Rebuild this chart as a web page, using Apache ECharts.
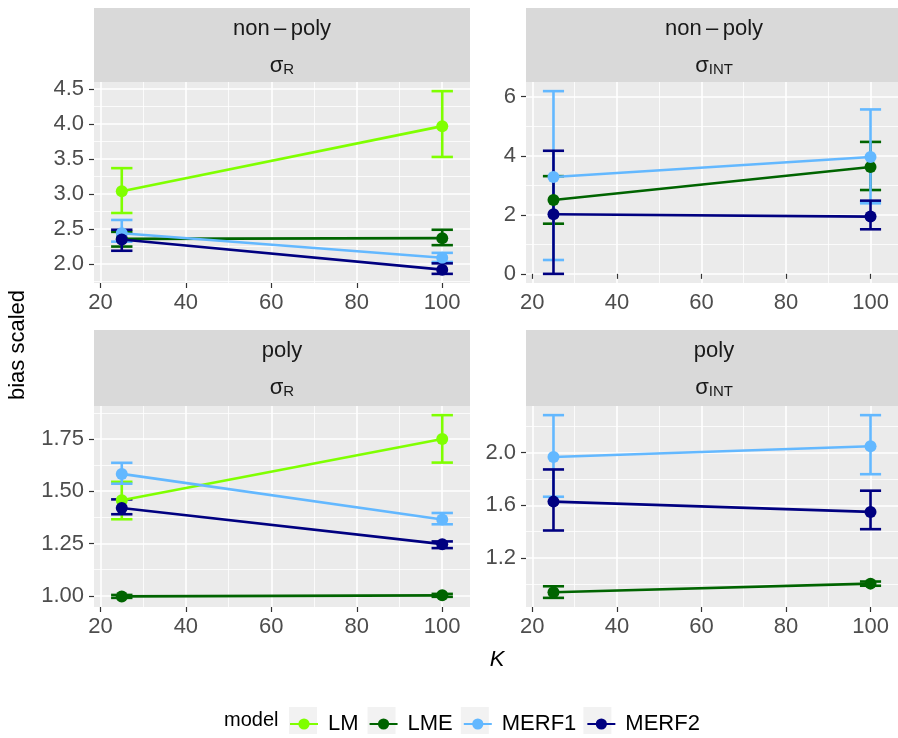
<!DOCTYPE html>
<html>
<head>
<meta charset="utf-8">
<script src="https://cdn.jsdelivr.net/npm/echarts@6/dist/echarts.min.js"></script>
<style>
  html, body { margin: 0; padding: 0; background: #ffffff; }
  #chart { width: 898px; height: 738px; }
</style>
</head>
<body>
<div id="chart"></div>
<script>
// ---- data -------------------------------------------------------------
const kValues = [25, 100];
const models = ['LM', 'LME', 'MERF1', 'MERF2'];

// non-poly, sigma_R  (rows follow `models`, columns follow `kValues`)
const nonPolyR_mean  = [[3.04, 3.97], [2.36, 2.37], [2.44, 2.09], [2.35, 1.92]];
const nonPolyR_lower = [[2.73, 3.53], [2.25, 2.27], [2.32, 2.03], [2.19, 1.86]];
const nonPolyR_upper = [[3.37, 4.47], [2.46, 2.49], [2.63, 2.16], [2.49, 2.01]];

// non-poly, sigma_INT (LM not estimated)
const nonPolyInt_mean  = [null, [2.50, 3.62], [3.28, 3.96], [2.02, 1.94]];
const nonPolyInt_lower = [null, [1.70, 2.84], [0.47, 2.39], [0.00, 1.51]];
const nonPolyInt_upper = [null, [3.31, 4.47], [6.19, 5.57], [4.17, 2.48]];

// poly, sigma_R
const polyR_mean  = [[1.457, 1.750], [0.997, 1.002], [1.583, 1.365], [1.420, 1.247]];
const polyR_lower = [[1.366, 1.637], [0.990, 0.995], [1.536, 1.342], [1.390, 1.228]];
const polyR_upper = [[1.545, 1.864], [1.004, 1.009], [1.636, 1.396], [1.461, 1.260]];

// poly, sigma_INT (LM not estimated)
const polyInt_mean  = [null, [0.941, 1.006], [1.967, 2.048], [1.628, 1.550]];
const polyInt_lower = [null, [0.898, 0.990], [1.665, 1.836], [1.409, 1.419]];
const polyInt_upper = [null, [0.986, 1.022], [2.284, 2.284], [1.872, 1.711]];

// axis breaks
const xBreaks = [20, 40, 60, 80, 100];
const xMinorBreaks = [30, 50, 70, 90];
const nonPolyR_breaks = [2.0, 2.5, 3.0, 3.5, 4.0, 4.5];
const nonPolyR_minor = [1.75, 2.25, 2.75, 3.25, 3.75, 4.25];
const nonPolyInt_breaks = [0, 2, 4, 6];
const nonPolyInt_minor = [1, 3, 5];
const polyR_breaks = [1.00, 1.25, 1.50, 1.75];
const polyR_minor = [1.125, 1.375, 1.625, 1.875];
const polyInt_breaks = [1.2, 1.6, 2.0];
const polyInt_minor = [1.0, 1.4, 1.8, 2.2];

// ---- styling ----------------------------------------------------------
const FONT = 'Liberation Sans';
const colors = { LM: '#7fff00', LME: '#006400', MERF1: '#63b8ff', MERF2: '#000080' };
const errorBarWidth = 5;           // in K units, like geom_errorbar(width = 5)
const capHalf = errorBarWidth / 2;
const lineW = 2.6;

function expand(lo, hi) { const d = (hi - lo) * 0.05; return [lo - d, hi + d]; }
const xRange = expand(kValues[0] - capHalf, kValues[kValues.length - 1] + capHalf);

const panels = [
  { row: 'non\u2009\u2013\u2009poly', sub: 'R',   mean: nonPolyR_mean,   lower: nonPolyR_lower,   upper: nonPolyR_upper,   breaks: nonPolyR_breaks,   minor: nonPolyR_minor,   digits: 1, rect: [94, 82, 376, 201] },
  { row: 'non\u2009\u2013\u2009poly', sub: 'INT', mean: nonPolyInt_mean, lower: nonPolyInt_lower, upper: nonPolyInt_upper, breaks: nonPolyInt_breaks, minor: nonPolyInt_minor, digits: 0, rect: [526, 82, 376, 201] },
  { row: 'poly',     sub: 'R',   mean: polyR_mean,      lower: polyR_lower,      upper: polyR_upper,      breaks: polyR_breaks,      minor: polyR_minor,      digits: 2, rect: [94, 406, 376, 201] },
  { row: 'poly',     sub: 'INT', mean: polyInt_mean,    lower: polyInt_lower,    upper: polyInt_upper,    breaks: polyInt_breaks,    minor: polyInt_minor,    digits: 1, rect: [526, 406, 376, 201] }
];

const grids = [], xAxes = [], yAxes = [], series = [], graphics = [];

panels.forEach((p, i) => {
  const [gl, gt, gw, gh] = p.rect;
  grids.push({ left: gl, top: gt, width: gw, height: gh, show: true, backgroundColor: '#ebebeb', borderWidth: 0 });

  const lows = p.lower.filter(v => v).flat();
  const highs = p.upper.filter(v => v).flat();
  const yRange = expand(Math.min(...lows), Math.max(...highs));

  // minor grid first so the major lines sit on top
  xAxes.push({
    type: 'value', gridIndex: i, min: xRange[0], max: xRange[1],
    axisLine: { show: false },
    axisTick: { show: false, customValues: xMinorBreaks },
    axisLabel: { show: false, customValues: xMinorBreaks },
    splitLine: { show: true, lineStyle: { color: '#ffffff', width: 0.8 } }
  });
  xAxes.push({
    type: 'value', gridIndex: i, position: 'bottom', min: xRange[0], max: xRange[1],
    axisLine: { show: false },
    axisTick: { show: true, customValues: xBreaks, length: 5, lineStyle: { color: '#333333', width: 1.2 } },
    axisLabel: { show: true, customValues: xBreaks, margin: 9, fontSize: 22, color: '#4d4d4d', fontFamily: FONT },
    splitLine: { show: true, lineStyle: { color: '#ffffff', width: 1.6 } }
  });
  yAxes.push({
    type: 'value', gridIndex: i, min: yRange[0], max: yRange[1],
    axisLine: { show: false },
    axisTick: { show: false, customValues: p.minor },
    axisLabel: { show: false, customValues: p.minor },
    splitLine: { show: true, lineStyle: { color: '#ffffff', width: 0.8 } }
  });
  yAxes.push({
    type: 'value', gridIndex: i, position: 'left', min: yRange[0], max: yRange[1],
    axisLine: { show: false },
    axisTick: { show: true, customValues: p.breaks, length: 5, lineStyle: { color: '#333333', width: 1.2 } },
    axisLabel: {
      show: true, customValues: p.breaks, margin: 10, fontSize: 22, color: '#4d4d4d', fontFamily: FONT,
      formatter: v => v.toFixed(p.digits)
    },
    splitLine: { show: true, lineStyle: { color: '#ffffff', width: 1.6 } }
  });

  models.forEach((m, mi) => {
    if (!p.mean[mi]) return;
    const color = colors[m];
    series.push({
      type: 'line', name: m, xAxisIndex: 2 * i + 1, yAxisIndex: 2 * i + 1,
      data: kValues.map((k, j) => [k, p.mean[mi][j]]),
      symbol: 'circle', symbolSize: 12, showSymbol: true,
      lineStyle: { color, width: lineW }, itemStyle: { color },
      animation: false, silent: true, z: 2
    });
    series.push({
      type: 'custom', name: m + ' interval', xAxisIndex: 2 * i + 1, yAxisIndex: 2 * i + 1,
      data: kValues.map((k, j) => [k, p.lower[mi][j], p.upper[mi][j]]),
      encode: { x: 0, y: [1, 2] },
      animation: false, silent: true, z: 2,
      renderItem: (params, api) => {
        const x = api.value(0), lo = api.value(1), hi = api.value(2);
        const top = api.coord([x, hi]), bot = api.coord([x, lo]);
        const tl = api.coord([x - capHalf, hi]), tr = api.coord([x + capHalf, hi]);
        const bl = api.coord([x - capHalf, lo]), br = api.coord([x + capHalf, lo]);
        const style = { stroke: color, lineWidth: lineW, fill: null };
        return {
          type: 'group',
          children: [
            { type: 'line', shape: { x1: top[0], y1: top[1], x2: bot[0], y2: bot[1] }, style },
            { type: 'line', shape: { x1: tl[0], y1: tl[1], x2: tr[0], y2: tr[1] }, style },
            { type: 'line', shape: { x1: bl[0], y1: bl[1], x2: br[0], y2: br[1] }, style }
          ]
        };
      }
    });
  });

  // facet strip: grey box with two text lines
  const stripH = i < 2 ? 74 : 76;
  graphics.push({ type: 'rect', silent: true, z: 0, shape: { x: gl, y: gt - stripH, width: gw, height: stripH }, style: { fill: '#d9d9d9' } });
  graphics.push({
    type: 'text', silent: true, z: 1, x: gl + gw / 2, y: gt - stripH + 21,
    style: { text: p.row, fontSize: 22, fontFamily: FONT, fill: '#1a1a1a', align: 'center', verticalAlign: 'middle' }
  });
  graphics.push({
    type: 'text', silent: true, z: 1, x: gl + gw / 2, y: gt - stripH + 57,
    style: {
      text: '{s|\u03c3}{b|' + p.sub + '}', align: 'center', verticalAlign: 'middle',
      rich: {
        s: { fontSize: 22, fontFamily: FONT, fill: '#1a1a1a', lineHeight: 24, verticalAlign: 'bottom' },
        b: { fontSize: 15, fontFamily: FONT, fill: '#1a1a1a', lineHeight: 10, verticalAlign: 'bottom' }
      }
    }
  });
});

// axis titles and legend title
graphics.push({ type: 'text', silent: true, x: 18, y: 345, rotation: Math.PI / 2,
  style: { text: 'bias scaled', fontSize: 22, fontFamily: FONT, fill: '#000000', align: 'center', verticalAlign: 'middle' } });
graphics.push({ type: 'text', silent: true, x: 497, y: 660,
  style: { text: 'K', fontSize: 22, fontStyle: 'italic', fontFamily: FONT, fill: '#000000', align: 'center', verticalAlign: 'middle' } });
graphics.push({ type: 'text', silent: true, x: 224, y: 720,
  style: { text: 'model', fontSize: 20, fontFamily: FONT, fill: '#000000', align: 'left', verticalAlign: 'middle' } });

// legend key backgrounds, placed along the legend row
const legendLeft = 289, legendKeyW = 28, legendGap = 10, legendTextPad = 5;
const ctx = document.createElement('canvas').getContext('2d');
ctx.font = '22px "' + FONT + '"';
let kx = legendLeft;
models.forEach(m => {
  graphics.push({ type: 'rect', silent: true, z: 0, shape: { x: kx, y: 707, width: legendKeyW, height: 27 }, style: { fill: '#f2f2f2' } });
  kx += legendKeyW + 5 + legendTextPad + ctx.measureText(m).width + legendGap;
});

const chart = echarts.init(document.getElementById('chart'), null, { renderer: 'canvas' });
chart.setOption({
  animation: false,
  backgroundColor: '#ffffff',
  textStyle: { fontFamily: FONT },
  grid: grids,
  xAxis: xAxes,
  yAxis: yAxes,
  series: series,
  legend: {
    data: models, orient: 'horizontal', left: legendLeft, top: 713, padding: 0,
    itemWidth: legendKeyW, itemHeight: 14, itemGap: legendGap,
    textStyle: { fontSize: 22, color: '#000000', fontFamily: FONT, padding: [0, 0, 0, legendTextPad] },
    selectedMode: false
  },
  graphic: graphics
});
</script>
</body>
</html>
